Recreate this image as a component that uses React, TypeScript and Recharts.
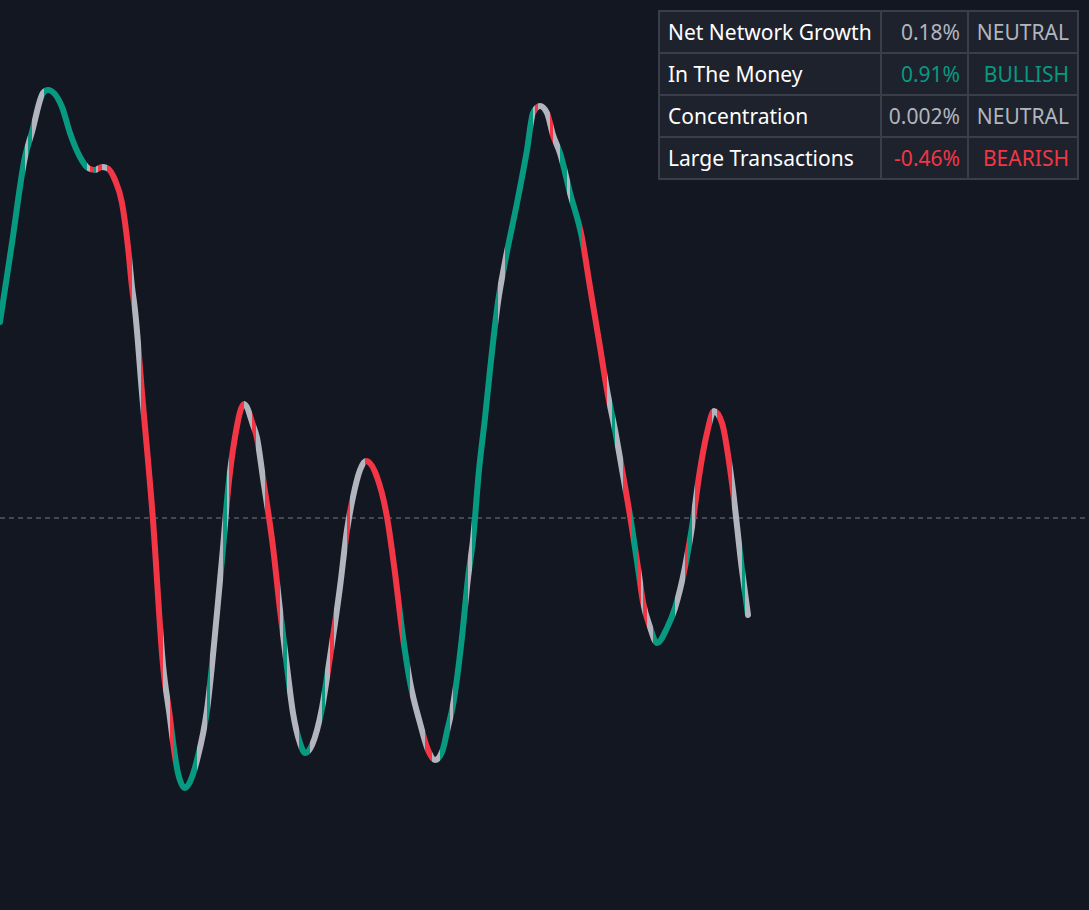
import React from 'react'
import { LineChart, Line, XAxis, YAxis, ReferenceLine } from 'recharts'

const W = 1089
const H = 910
const BG = '#131722'
const BULL = '#089981'
const BEAR = '#f23645'
const FLAT = '#b2b5be'

// oscillator samples (time in bar units, value in osc units)
const barTimes = [
  0, 12, 25, 32, 43, 48, 62, 70, 80, 88, 95, 102, 107, 115, 122, 128, 132, 135, 142, 153,
  163, 170, 173, 178, 185, 192, 197, 207, 217, 223, 228, 235, 244, 253, 257, 263, 273, 280, 287, 293,
  300, 305, 312, 322, 330, 340, 347, 353, 360, 366, 377, 387, 395, 402, 410, 420, 428, 435, 442, 448,
  453, 462, 468, 473, 479, 485, 490, 498, 505, 517, 527, 533, 540, 547, 553, 560, 570, 582, 590, 600,
  607, 615, 623, 632, 638, 643, 650, 657, 667, 675, 685, 692, 700, 707, 714, 722, 732, 742, 748,
]
const oscValues = [
  1.96, 2.75, 3.61, 3.86, 4.25, 4.28, 4.11, 3.85, 3.61, 3.5, 3.48, 3.51, 3.5, 3.38, 3.15, 2.71, 2.31, 2.08, 1.25, -0.02,
  -1.47, -2.0, -2.24, -2.55, -2.7, -2.59, -2.42, -1.92, -0.95, -0.3, 0.28, 0.81, 1.14, 0.93, 0.8, 0.4, -0.29, -0.92, -1.49, -1.95,
  -2.25, -2.35, -2.27, -1.9, -1.39, -0.69, -0.12, 0.21, 0.48, 0.57, 0.41, 0.01, -0.55, -1.12, -1.64, -2.05, -2.32, -2.42, -2.34, -2.09,
  -1.87, -1.19, -0.6, -0.22, 0.48, 1.0, 1.48, 2.16, 2.56, 3.15, 3.68, 4.05, 4.12, 4.05, 3.83, 3.65, 3.25, 2.8, 2.31, 1.71,
  1.28, 0.88, 0.43, -0.1, -0.5, -0.84, -1.09, -1.25, -1.1, -0.9, -0.49, -0.09, 0.48, 0.85, 1.07, 0.95, 0.35, -0.52, -0.97,
]

// where the line colour switches, and the state from that point on
const stateStarts = [
  0, 25, 28, 32, 44, 87, 90, 93, 96, 98, 102, 107, 132, 141, 163, 170, 173, 197, 207, 210,
  223, 227, 229, 244, 252, 256, 265, 280, 283, 287, 299, 310, 322, 325, 330, 334, 347, 350, 365, 402,
  410, 425, 432, 440, 450, 453, 468, 472, 498, 505, 533, 535, 538, 550, 553, 560, 567, 570, 582, 607,
  612, 615, 623, 632, 638, 641, 643, 647, 653, 675, 685, 688, 692, 695, 712, 717, 732, 742, 745,
]
const stateNames = [
  'bull', 'flat', 'bull', 'flat', 'bull', 'flat', 'bear', 'bull', 'flat', 'bear', 'flat', 'bear', 'flat', 'bear', 'flat', 'bear', 'bull', 'flat', 'bull', 'flat',
  'bull', 'flat', 'bear', 'flat', 'bear', 'flat', 'bear', 'flat', 'bull', 'flat', 'bull', 'flat', 'bull', 'flat', 'bear', 'flat', 'bear', 'flat', 'bear', 'bull',
  'flat', 'bear', 'flat', 'bull', 'flat', 'bull', 'flat', 'bull', 'flat', 'bull', 'flat', 'bear', 'flat', 'bear', 'flat', 'bull', 'flat', 'bull', 'bear', 'flat',
  'bull', 'flat', 'bear', 'bull', 'bear', 'flat', 'bear', 'flat', 'bull', 'flat', 'bear', 'bull', 'flat', 'bear', 'flat', 'bear', 'flat', 'bull', 'flat',
]

const tableMetrics = ['Net Network Growth', 'In The Money', 'Concentration', 'Large Transactions']
const tableValues = ['0.18%', '0.91%', '0.002%', '-0.46%']
const tableSignals = ['NEUTRAL', 'BULLISH', 'NEUTRAL', 'BEARISH']

const stateColor: any = { bull: BULL, bear: BEAR, flat: FLAT }
const signalColor = (s: string) => (s === 'BULLISH' ? BULL : s === 'BEARISH' ? BEAR : FLAT)

const data = barTimes.map((t, i) => ({ t, v: oscValues[i] }))

const tMin = barTimes[0]
const tMax = barTimes[barTimes.length - 1]

function gradientStops()
{
  const out: any[] = []
  stateStarts.forEach((s, i) =>
  {
    const e = i < stateStarts.length - 1 ? stateStarts[i + 1] : tMax
    const c = stateColor[stateNames[i]]
    out.push(<stop key={'a' + i} offset={(s - tMin) / (tMax - tMin)} stopColor={c} />)
    out.push(<stop key={'b' + i} offset={(e - tMin) / (tMax - tMin)} stopColor={c} />)
  })
  return out
}

const cell: any = {
  border: '2px solid #3a3e4a',
  height: 40,
  padding: '0 8px',
  fontSize: 21,
  whiteSpace: 'nowrap',
  overflow: 'visible',
}

const App = () =>
{
  return (
    <div style={{ position: 'relative', width: W, height: H, background: BG, overflow: 'hidden' }}>
      <style>{`body{margin:0;background:${BG};overflow:hidden}`}</style>
      <LineChart width={W} height={H} data={data} margin={{ top: 0, right: 0, bottom: 0, left: 0 }}>
        <defs>
          <linearGradient id="segStroke" x1="0" y1="0" x2="1" y2="0">
            {gradientStops()}
          </linearGradient>
        </defs>
        <XAxis type="number" dataKey="t" domain={[0, W]} hide />
        <YAxis type="number" domain={[-3.92, 5.18]} hide />
        <ReferenceLine y={0} stroke="#787b86" strokeDasharray="5 4" strokeWidth={1} />
        <Line
          type="monotone"
          dataKey="v"
          stroke="url(#segStroke)"
          strokeWidth={6}
          strokeLinecap="round"
          dot={false}
          activeDot={false}
          isAnimationActive={false}
        />
      </LineChart>
      <table
        style={{
          position: 'absolute',
          left: 658,
          top: 10,
          width: 419,
          tableLayout: 'fixed',
          borderCollapse: 'collapse',
          background: '#1e222d',
          fontFamily: '"Noto Sans", sans-serif',
        }}
      >
        <colgroup>
          <col style={{ width: 222 }} />
          <col style={{ width: 87 }} />
          <col style={{ width: 110 }} />
        </colgroup>
        <tbody>
          {tableMetrics.map((m, i) => (
            <tr key={m}>
              <td style={{ ...cell, color: '#ffffff', textAlign: 'left' }}>{m}</td>
              <td style={{ ...cell, padding: '0 7px 0 0', color: signalColor(tableSignals[i]), textAlign: 'right' }}>{tableValues[i]}</td>
              <td style={{ ...cell, padding: '0 8px 0 0', color: signalColor(tableSignals[i]), textAlign: 'right' }}>{tableSignals[i]}</td>
            </tr>
          ))}
        </tbody>
      </table>
    </div>
  )
}

export default App
